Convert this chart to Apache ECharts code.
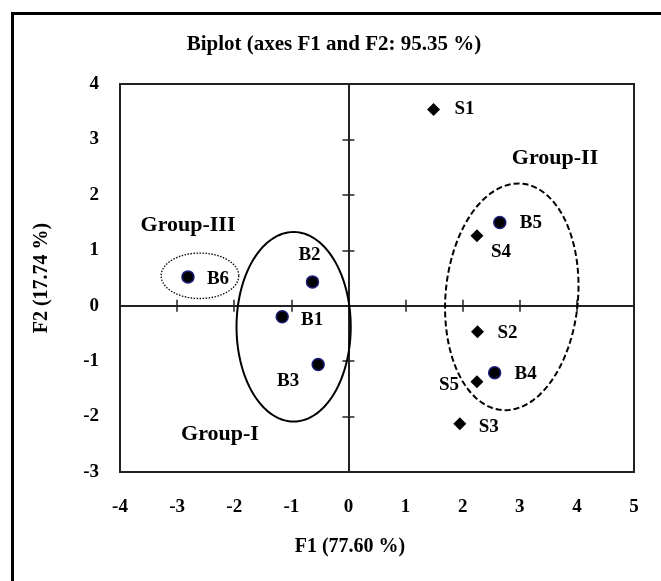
<!DOCTYPE html>
<html>
<head>
<meta charset="utf-8">
<script src="https://cdn.jsdelivr.net/npm/echarts@6/dist/echarts.min.js"></script>
<style>
  html, body { margin: 0; padding: 0; background: #fff; }
  #biplot { width: 661px; height: 581px; }
</style>
</head>
<body>
<div id="biplot"></div>
<script>
var chart = echarts.init(document.getElementById('biplot'));
var FONT = '"Liberation Serif", "Times New Roman", serif';

// observations (blue dots) and variables (diamonds), F1 / F2 scores
var bNames = ['B1', 'B2', 'B3', 'B4', 'B5', 'B6'];
var bF1 = [-1.16, -0.63, -0.53, 2.56, 2.65, -2.81];
var bF2 = [-0.20, 0.43, -1.06, -1.21, 1.50, 0.52];

var sNames = ['S1', 'S2', 'S3', 'S4', 'S5'];
var sF1 = [1.49, 2.26, 1.95, 2.25, 2.25];
var sF2 = [3.54, -0.47, -2.13, 1.26, -1.37];

// group ellipses: centre, half widths (axis units), tilt in degrees
var groupNames = ['Group-I', 'Group-II', 'Group-III'];
var groupCx = [-0.96, 2.86, -2.6];
var groupCy = [-0.38, 0.16, 0.54];
var groupRx = [1.0, 1.16, 0.68];
var groupRy = [1.71, 2.05, 0.41];
var groupTilt = [0, 5, 0];

var xTicks = [-4, 5];
var yTicks = [-3, 4];

// where each point's label sits, px from the point
var labelOffset = {
  B1: [30, 3], B2: [-3, -27], B3: [-30, 17], B4: [31, 1], B5: [31, 1], B6: [30, 2],
  S1: [31, 0], S2: [30, 1], S3: [29, 3], S4: [24, 16], S5: [-28, 3]
};
var groupStyle = [
  { stroke: '#000', lineWidth: 2, lineDash: null },
  { stroke: '#000', lineWidth: 2, lineDash: [6, 3] },
  { stroke: '#000', lineWidth: 1.3, lineDash: [1.5, 1.5] }
];

function pts(names, xs, ys) {
  return names.map(function (n, i) {
    return {
      name: n,
      value: [xs[i], ys[i]],
      label: { offset: labelOffset[n] }
    };
  });
}

var labelStyle = {
  show: true,
  position: 'inside',
  formatter: '{b}',
  color: '#000',
  fontFamily: FONT,
  fontWeight: 'bold',
  fontSize: 19
};

var ellipseData = groupNames.map(function (n, i) {
  return [groupCx[i], groupCy[i], groupRx[i], groupRy[i], groupTilt[i], i];
});

function tickAxis(extra) {
  var base = {
    type: 'value',
    axisLine: { show: true, onZero: true, lineStyle: { color: '#222', width: 2 } },
    axisTick: { show: true, length: 6, lineStyle: { color: '#222', width: 1.5 } },
    axisLabel: { show: false },
    splitLine: { show: false }
  };
  return Object.assign(base, extra);
}

var option = {
  animation: false,
  grid: [
    { left: 120, right: 27, top: 84, bottom: 109, show: true, borderColor: '#222', borderWidth: 2 },
    { left: 120, right: 27, top: 84, bottom: 109 }
  ],
  xAxis: [
    {
      gridIndex: 0, type: 'value', position: 'bottom',
      min: xTicks[0], max: xTicks[1], interval: 1,
      axisLine: { show: false, onZero: false },
      axisTick: { show: false },
      splitLine: { show: false },
      axisLabel: { margin: 26, color: '#000', fontFamily: FONT, fontWeight: 'bold', fontSize: 19 }
    },
    tickAxis({ gridIndex: 0, position: 'top', min: xTicks[0], max: xTicks[1], interval: 1 }),
    tickAxis({ gridIndex: 1, position: 'bottom', min: xTicks[0], max: xTicks[1], interval: 1 })
  ],
  yAxis: [
    {
      gridIndex: 0, type: 'value', position: 'left',
      min: yTicks[0], max: yTicks[1], interval: 1,
      axisLine: { show: false, onZero: false },
      axisTick: { show: false },
      splitLine: { show: false },
      axisLabel: { margin: 21, color: '#000', fontFamily: FONT, fontWeight: 'bold', fontSize: 19 },
      name: 'F2 (17.74 %)',
      nameLocation: 'middle',
      nameGap: 68,
      nameTextStyle: { color: '#000', fontFamily: FONT, fontWeight: 'bold', fontSize: 20 }
    },
    tickAxis({ gridIndex: 0, position: 'right', min: yTicks[0], max: yTicks[1], interval: 1 }),
    tickAxis({ gridIndex: 1, position: 'left', min: yTicks[0], max: yTicks[1], interval: 1 })
  ],
  graphic: [
    {
      type: 'rect', silent: true, z: 10,
      shape: { x: 12.5, y: 13.5, width: 700, height: 700 },
      style: { fill: 'none', stroke: '#000', lineWidth: 3 }
    },
    {
      type: 'text', x: 334, y: 45,
      style: { text: 'Biplot (axes F1 and F2: 95.35 %)', fill: '#000', font: 'bold 21px ' + FONT, textAlign: 'center', textVerticalAlign: 'middle' }
    },
    {
      type: 'text', x: 350, y: 547,
      style: { text: 'F1 (77.60 %)', fill: '#000', font: 'bold 20px ' + FONT, textAlign: 'center', textVerticalAlign: 'middle' }
    },
    {
      type: 'text', x: 220, y: 434,
      style: { text: groupNames[0], fill: '#000', font: 'bold 22px ' + FONT, textAlign: 'center', textVerticalAlign: 'middle' }
    },
    {
      type: 'text', x: 555, y: 158,
      style: { text: groupNames[1], fill: '#000', font: 'bold 22px ' + FONT, textAlign: 'center', textVerticalAlign: 'middle' }
    },
    {
      type: 'text', x: 188, y: 225,
      style: { text: groupNames[2], fill: '#000', font: 'bold 22px ' + FONT, textAlign: 'center', textVerticalAlign: 'middle' }
    }
  ],
  series: [
    {
      type: 'custom',
      name: 'groups',
      xAxisIndex: 0, yAxisIndex: 0,
      silent: true,
      data: ellipseData,
      renderItem: function (params, api) {
        var c = api.coord([api.value(0), api.value(1)]);
        var rx = api.size([api.value(2), 0])[0];
        var ry = api.size([0, api.value(3)])[1];
        var a = api.value(4) * Math.PI / 180;
        var st = groupStyle[api.value(5)];
        var points = [];
        for (var k = 0; k < 120; k++) {
          var t = k / 120 * Math.PI * 2;
          var ex = rx * Math.cos(t), ey = ry * Math.sin(t);
          points.push([c[0] + ex * Math.cos(a) - ey * Math.sin(a), c[1] + ex * Math.sin(a) + ey * Math.cos(a)]);
        }
        return {
          type: 'polygon',
          shape: { points: points },
          style: { fill: 'none', stroke: st.stroke, lineWidth: st.lineWidth, lineDash: st.lineDash }
        };
      }
    },
    {
      type: 'scatter',
      name: 'B',
      xAxisIndex: 0, yAxisIndex: 0,
      symbol: 'circle',
      symbolSize: 12,
      itemStyle: { color: '#000', borderColor: '#1c1c7a', borderWidth: 1.5, opacity: 1 },
      label: labelStyle,
      data: pts(bNames, bF1, bF2),
      z: 5
    },
    {
      type: 'scatter',
      name: 'S',
      xAxisIndex: 0, yAxisIndex: 0,
      symbol: 'diamond',
      symbolSize: 13,
      itemStyle: { color: '#000', opacity: 1 },
      label: labelStyle,
      data: pts(sNames, sF1, sF2),
      z: 5
    }
  ]
};

chart.setOption(option);
</script>
</body>
</html>
